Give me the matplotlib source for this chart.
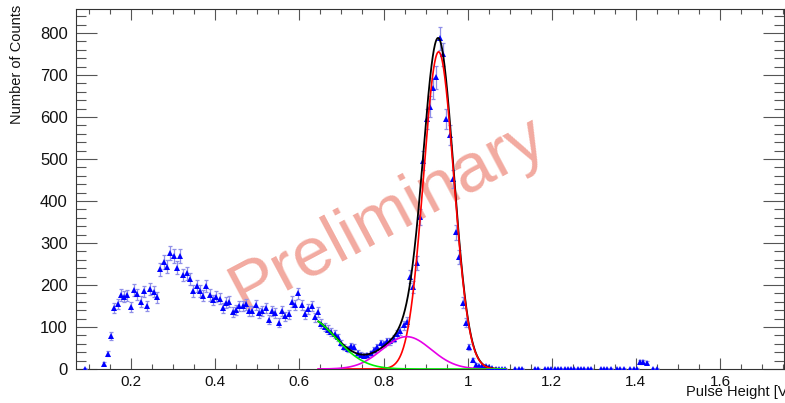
import numpy as np
import matplotlib
matplotlib.use("Agg")
import matplotlib.pyplot as plt
from matplotlib.ticker import MultipleLocator, FuncFormatter

# histogram: 256 bins over 0-2 V, counts listed from bin 11 on (0 = empty bin)
bin_width = 2.0 / 256
first_bin = 11
counts = [
    1, 0, 0, 0, 0, 0,
    # 0.13 - 0.63 V
    13, 36, 79, 145, 155, 176, 172, 175, 148, 188,
    178, 160, 185, 150, 190, 184, 171, 237, 255, 244,
    277, 269, 241, 269, 224, 228, 214, 186, 198, 186,
    174, 198, 176, 164, 172, 167, 146, 158, 160, 135,
    140, 150, 150, 154, 138, 138, 152, 133, 139, 145,
    117, 138, 134, 110, 139, 125, 130, 160, 152, 180,
    152, 130, 142, 150,
    # 0.63 - 0.93 V
    123, 136, 108, 100, 94, 89, 83, 75, 62, 52,
    47, 54, 52, 38, 34, 32, 33, 37, 45, 53,
    61, 59, 66, 66, 72, 84, 91, 104, 113, 220,
    196, 252, 363, 496, 595, 624, 668, 694, 787,
    # falling edge and tail
    749, 595, 557, 452, 325, 267, 158, 110, 52, 21, 10,
    7, 7, 7, 5, 2, 1, 1, 1, 1,
    0, 0, 1, 1, 1, 0, 0, 0, 1, 1, 0,
    1, 1, 1, 1, 1, 1, 1, 1, 1, 1, 1, 1, 1, 1, 1,
    0, 0, 1, 1, 1, 1, 0, 1, 1, 1, 0, 1, 1, 1,
    17, 17, 15, 0, 1, 1,
]

# fit components: (amplitude, mean, sigma)
fit_range = (0.645, 1.09)
peak_pars = (755, 0.931, 0.036)      # red
shoulder_pars = (77, 0.855, 0.058)   # magenta
backgr_pars = (123, 0.617, 0.069)    # green

x_ticks = [0.2, 0.4, 0.6, 0.8, 1.0, 1.2, 1.4, 1.6]
y_ticks = [0, 100, 200, 300, 400, 500, 600, 700, 800]

W, H = 785, 403
FONT = "Liberation Sans"


def gaus(x, pars):
    a, m, s = pars
    return a * np.exp(-0.5 * ((x - m) / s) ** 2)


def main() -> None:
    plt.rcParams["font.family"] = [FONT, "DejaVu Sans"]
    fig = plt.figure(figsize=(W / 100, H / 100), dpi=100)
    ax = fig.add_axes([76 / W, 34 / H, (784 - 76) / W, (369 - 9) / H])

    c = np.array(counts, dtype=float)
    x = (first_bin + np.arange(len(c)) + 0.5) * bin_width
    m = c > 0
    err = np.sqrt(c[m])

    ax.errorbar(x[m], c[m], yerr=err, fmt="none", ecolor="#8f8fe8",
                elinewidth=0.9, capsize=1.6, capthick=0.9, zorder=3)
    ax.plot(x[m], c[m], "^", color="#0000ff", markersize=4.2,
            markeredgewidth=0, zorder=4)

    xf = np.linspace(fit_range[0], fit_range[1], 500)
    red = gaus(xf, peak_pars)
    mag = gaus(xf, shoulder_pars)
    grn = gaus(xf, backgr_pars)
    ax.plot(xf, red + mag + grn, color="black", lw=1.3, zorder=5)
    ax.plot(xf, red, color="#ff0000", lw=1.2, zorder=6)
    ax.plot(xf, mag, color="#e600e6", lw=1.2, zorder=6)
    ax.plot(xf, grn, color="#00ee00", lw=1.2, zorder=7)

    ax.set_xlim(0.069, 1.752)
    ax.set_ylim(0, 857)
    ax.xaxis.set_major_locator(MultipleLocator(0.2))
    ax.xaxis.set_minor_locator(MultipleLocator(0.05))
    ax.yaxis.set_major_locator(MultipleLocator(100))
    ax.yaxis.set_minor_locator(MultipleLocator(20))
    ax.set_xticks(x_ticks)
    ax.set_yticks(y_ticks)
    ax.xaxis.set_major_formatter(FuncFormatter(lambda v, p: "%g" % round(v, 2)))

    ax.tick_params(which="both", direction="in", top=True, right=True,
                   color="#555555", width=0.8, labelcolor="#111111")
    ax.tick_params(axis="x", which="major", length=7.7, pad=4, labelsize=11)
    ax.tick_params(axis="x", which="minor", length=3.8)
    ax.tick_params(axis="y", which="major", length=15, pad=6, labelsize=12)
    ax.tick_params(axis="y", which="minor", length=7)
    for s in ax.spines.values():
        s.set_color("#333333")
        s.set_linewidth(0.8)

    ax.text(0.4407, 0.43, "Preliminary", transform=ax.transAxes,
            rotation=28, rotation_mode="anchor", ha="center", va="center",
            fontsize=50, color="#f2aaa0", zorder=1)

    fig.text(17.5 / W, 1 - 5 / H, "Number of Counts", rotation=90,
             ha="center", va="top", fontsize=10.5, color="#111111")
    fig.text(791 / W, 1 - 392 / H, "Pulse Height [V]", ha="right",
             va="center", fontsize=10.5, color="#111111")

    fig.savefig("out.png", dpi=100)
    plt.close(fig)


if __name__ == "__main__":
    main()
